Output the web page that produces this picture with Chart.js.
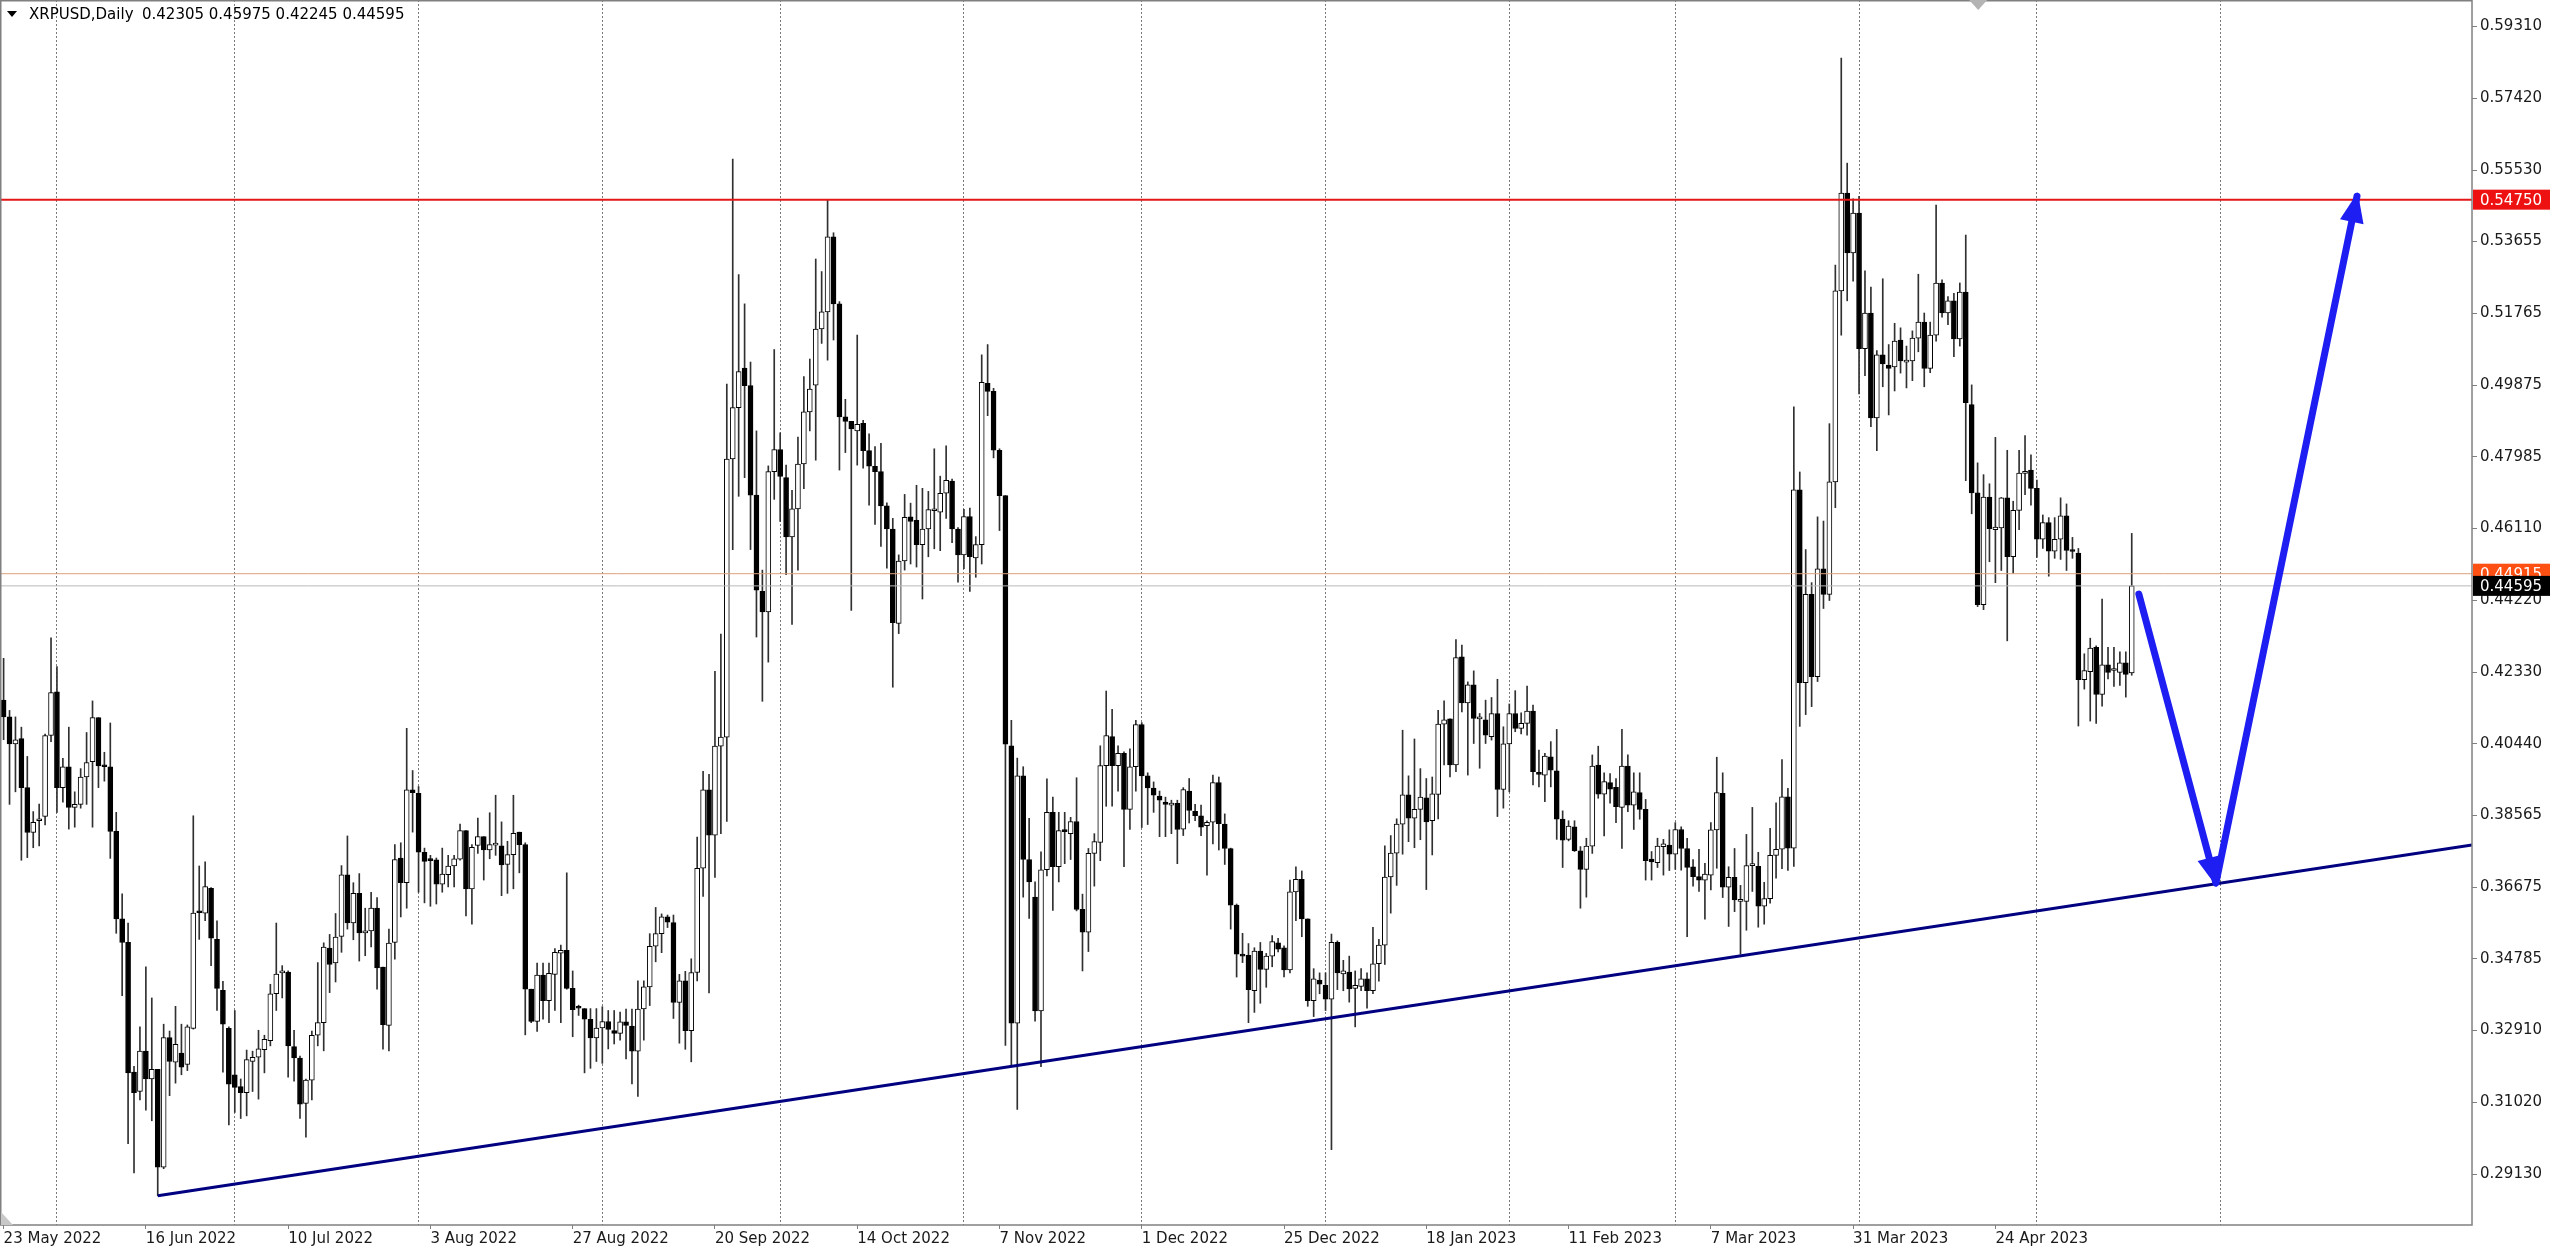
<!DOCTYPE html>
<html>
<head>
<meta charset="utf-8">
<title>XRPUSD, Daily</title>
<script src="https://cdn.jsdelivr.net/npm/chart.js@4.4.1/dist/chart.umd.min.js"></script>
<style>
  html, body { margin: 0; padding: 0; background: #ffffff; }
</style>
</head>
<body>
<canvas id="chart" width="2560" height="1253"></canvas>
<script>
"use strict";

// ------------------------------------------------------------
// Daily candles, index 0 = 23 May 2022 ... 359 = 17 May 2023
// ------------------------------------------------------------
const opens = [
  .4159,.4115,.4044,.4058,.3929,.3811,.3842,.3853,.4066,.4181,
  .3929,.3984,.3877,.3885,.3957,.3997,.4113,.3989,.3984,.3814,
  .3584,.3522,.3181,.3130,.3236,.3163,.3188,.2931,.3272,.3207,
  .3231,.3201,.3296,.3601,.3599,.3664,.3530,.3396,.3296,.3174,
  .3143,.3127,.3209,.3220,.3240,.3264,.3387,.3442,.3444,.3248,
  .3218,.3099,.3160,.3278,.3311,.3507,.3468,.3538,.3700,.3573,
  .3651,.3547,.3552,.3612,.3457,.3304,.3522,.3744,.3679,.3923,
  .3914,.3759,.3738,.3739,.3675,.3700,.3723,.3741,.3816,.3663,
  .3777,.3800,.3765,.3778,.3776,.3727,.3753,.3812,.3779,.3399,
  .3314,.3436,.3369,.3438,.3494,.3501,.3401,.3350,.3348,.3320,
  .3271,.3297,.3314,.3290,.3283,.3313,.3302,.3236,.3347,.3405,
  .3512,.3545,.3589,.3574,.3364,.3421,.3290,.3443,.3717,.3923,
  .3804,.4038,.4062,.4793,.4928,.5032,.4986,.4698,.4445,.4391,
  .4760,.4818,.4744,.4588,.4662,.4780,.4917,.4987,.5135,.5180,
  .5377,.5201,.4904,.4892,.4867,.4887,.4815,.4774,.4760,.4670,
  .4609,.4361,.4525,.4641,.4632,.4568,.4609,.4657,.4653,.4703,
  .4735,.4609,.4541,.4642,.4533,.4568,.4992,.4971,.4816,.4697,
  .4039,.3310,.3960,.3740,.3641,.3342,.3713,.3864,.3721,.3819,
  .3808,.3840,.3609,.3549,.3756,.3785,.3987,.4063,.3987,.4019,
  .3872,.3984,.4095,.3960,.3928,.3907,.3891,.3883,.3888,.3820,
  .3920,.3867,.3855,.3829,.3838,.3942,.3833,.3769,.3620,.3491,
  .3488,.3395,.3499,.3451,.3486,.3521,.3508,.3450,.3655,.3688,
  .3584,.3369,.3423,.3409,.3373,.3522,.3439,.3444,.3401,.3406,
  .3426,.3395,.3466,.3515,.3694,.3757,.3833,.3910,.3849,.3872,
  .3902,.3842,.3911,.4096,.4110,.3989,.4273,.4152,.4199,.4110,
  .4107,.4063,.4124,.3924,.4044,.4124,.4085,.4098,.4130,.3969,
  .3962,.4010,.3973,.3846,.3793,.3826,.3763,.3714,.3775,.3988,
  .3912,.3942,.3930,.3877,.3986,.3883,.3916,.3872,.3741,.3732,
  .3774,.3778,.3754,.3819,.3769,.3721,.3695,.3686,.3699,.3818,
  .3914,.3667,.3693,.3630,.3630,.3724,.3722,.3617,.3637,.3751,
  .3767,.3905,.3770,.4712,.4205,.4437,.4221,.4504,.4437,.4733,
  .5235,.5492,.5335,.5440,.5083,.5177,.4901,.5067,.5040,.5035,
  .5106,.5048,.5051,.5111,.5153,.5031,.5119,.5256,.5177,.5209,
  .5109,.5232,.4936,.4704,.4410,.4693,.4607,.4612,.4691,.4536,
  .4658,.4755,.4764,.4716,.4582,.4626,.4551,.4582,.4644,.4553,
  .4546,.4213,.4234,.4298,.4174,.4252,.4237,.4232,.4257,.42305
];
const highs = [
  .4269,.4132,.4115,.4088,.4011,.3866,.3886,.4070,.4323,.4247,
  .4006,.4088,.3918,.3979,.4074,.4157,.4113,.4022,.4099,.3864,
  .3650,.3573,.3196,.3300,.3458,.3376,.3188,.3307,.3289,.3354,
  .3307,.3305,.3855,.3723,.3734,.3666,.3579,.3420,.3300,.3343,
  .3163,.3239,.3236,.3291,.3278,.3412,.3573,.3461,.3447,.3291,
  .3223,.3163,.3289,.3469,.3521,.3543,.3598,.3724,.3802,.3679,
  .3703,.3612,.3654,.3640,.3457,.3557,.3779,.3784,.4085,.3974,
  .3932,.3770,.3751,.3744,.3770,.3751,.3751,.3833,.3816,.3779,
  .3849,.3800,.3863,.3909,.3839,.3788,.3909,.3812,.3784,.3399,
  .3468,.3468,.3468,.3506,.3515,.3705,.3447,.3357,.3348,.3348,
  .3348,.3353,.3343,.3343,.3339,.3347,.3347,.3421,.3421,.3545,
  .3614,.3597,.3594,.3594,.3438,.3446,.3479,.3799,.3972,.3964,
  .4235,.4333,.4990,.5582,.5278,.5201,.5048,.4867,.4501,.4775,
  .5081,.4862,.4777,.4711,.4851,.5010,.5056,.5319,.5286,.5475,
  .5388,.5207,.4950,.4892,.5119,.4895,.4859,.4826,.4834,.4678,
  .4637,.4541,.4700,.4677,.4724,.4716,.4708,.4820,.4748,.4828,
  .4740,.4613,.4661,.4664,.4589,.5067,.5094,.4979,.4820,.4697,
  .4106,.4007,.3984,.3848,.3681,.3760,.3952,.3904,.3864,.3864,
  .3851,.3955,.3649,.3769,.3808,.4039,.4183,.4135,.4039,.4023,
  .4031,.4106,.4100,.3968,.3944,.3920,.3904,.3896,.3896,.3929,
  .3953,.3885,.3883,.3842,.3962,.3957,.3860,.3770,.3623,.3546,
  .3519,.3508,.3522,.3493,.3540,.3533,.3513,.3686,.3721,.3710,
  .3584,.3453,.3442,.3442,.3544,.3526,.3475,.3486,.3447,.3453,
  .3442,.3562,.3530,.3776,.3803,.3847,.4080,.3960,.4057,.3979,
  .3953,.3957,.4132,.4157,.4110,.4318,.4304,.4207,.4236,.4124,
  .4159,.4166,.4214,.4089,.4149,.4184,.4126,.4196,.4146,.4028,
  .4019,.4050,.4082,.3868,.3842,.3842,.3774,.3796,.4015,.4038,
  .3968,.3966,.3953,.4082,.4015,.3968,.3968,.3898,.3761,.3796,
  .3793,.3818,.3837,.3826,.3796,.3740,.3767,.3730,.3837,.4009,
  .3968,.3721,.3769,.3672,.3806,.3877,.3759,.3680,.3822,.3889,
  .4003,.3927,.4930,.4759,.4555,.4468,.4641,.4630,.4886,.5303,
  .5847,.5571,.5477,.5484,.5288,.5245,.5078,.5267,.5094,.5150,
  .5138,.5090,.5130,.5279,.5177,.5153,.5461,.5264,.5220,.5229,
  .5256,.5382,.4988,.4783,.4752,.4728,.4850,.4692,.4816,.4682,
  .4816,.4855,.4804,.4738,.4646,.4639,.4639,.4691,.4675,.4587,
  .4558,.4281,.4322,.4302,.4425,.4298,.4298,.4286,.4286,.45975
];
const lows = [
  .4055,.3885,.3918,.3738,.3745,.3771,.3776,.3831,.4050,.3864,
  .3891,.3820,.3825,.3875,.3885,.3825,.3929,.3946,.3743,.3546,
  .3382,.2993,.2916,.3108,.3081,.3053,.2856,.2927,.3119,.3152,
  .3174,.3185,.3294,.3530,.3579,.3461,.3343,.3181,.3042,.3075,
  .3059,.3066,.3130,.3110,.3179,.3250,.3343,.3376,.3168,.3157,
  .3059,.3010,.3108,.3250,.3237,.3390,.3418,.3496,.3557,.3529,
  .3473,.3487,.3510,.3399,.3241,.3237,.3478,.3589,.3612,.3812,
  .3654,.3626,.3617,.3623,.3654,.3668,.3668,.3738,.3592,.3570,
  .3756,.3686,.3742,.3751,.3645,.3651,.3663,.3705,.3279,.3311,
  .3288,.3320,.3311,.3343,.3311,.3399,.3274,.3330,.3179,.3191,
  .3209,.3204,.3242,.3255,.3265,.3216,.3150,.3117,.3265,.3356,
  .3471,.3495,.3561,.3322,.3257,.3241,.3208,.3421,.3643,.3389,
  .3693,.3808,.3840,.4555,.4695,.4744,.4555,.4325,.4156,.4259,
  .4687,.4629,.4489,.4358,.4501,.4715,.4867,.4790,.5097,.5053,
  .5106,.4764,.4810,.4395,.4777,.4769,.4672,.4621,.4563,.4506,
  .4193,.4334,.4501,.4517,.4509,.4425,.4536,.4557,.4552,.4637,
  .4573,.4469,.4505,.4445,.4482,.4517,.4907,.4796,.4605,.3251,
  .3198,.3083,.3641,.3585,.3315,.3195,.3697,.3606,.3681,.3729,
  .3740,.3605,.3447,.3498,.3670,.3737,.3880,.3880,.3920,.3721,
  .3819,.3920,.3824,.3832,.3864,.3800,.3800,.3808,.3729,.3803,
  .3836,.3842,.3803,.3699,.3781,.3765,.3727,.3557,.3431,.3469,
  .3311,.3338,.3362,.3404,.3458,.3497,.3431,.3442,.3579,.3537,
  .3354,.3327,.3387,.3343,.2977,.3398,.3395,.3365,.3300,.3395,
  .3349,.3387,.3420,.3464,.3599,.3672,.3754,.3787,.3771,.3792,
  .3661,.3752,.3847,.3989,.3957,.3971,.4128,.3962,.4045,.3980,
  .4045,.4054,.3853,.3875,.3918,.4076,.4070,.4067,.3936,.3931,
  .3892,.3931,.3793,.3719,.3789,.3761,.3612,.3641,.3756,.3901,
  .3802,.3888,.3837,.3769,.3866,.3819,.3846,.3686,.3686,.3719,
  .3699,.3711,.3714,.3712,.3537,.3670,.3656,.3583,.3660,.3717,
  .3640,.3564,.3603,.3491,.3554,.3656,.3562,.3570,.3625,.3691,
  .3716,.3711,.3722,.4090,.4121,.4142,.4208,.4400,.4421,.4665,
  .5119,.5209,.5261,.4964,.5012,.4878,.4815,.4983,.4909,.4972,
  .5019,.4980,.4999,.5075,.4983,.5020,.5103,.5166,.5146,.5062,
  .5090,.4736,.4649,.4405,.4397,.4523,.4468,.4500,.4315,.4493,
  .4607,.4699,.4672,.4534,.4558,.4485,.4532,.4529,.4500,.4532,
  .4091,.4188,.4104,.4098,.4143,.4215,.4195,.4198,.4167,.42245
];
const closes = [
  .4115,.4044,.4055,.3929,.3811,.3838,.3845,.4066,.4179,.3929,
  .3984,.3877,.3885,.3957,.3995,.4113,.3986,.3984,.3814,.3584,
  .3522,.3179,.3127,.3236,.3163,.3188,.2931,.3272,.3209,.3254,
  .3194,.3300,.3599,.3600,.3669,.3533,.3401,.3307,.3149,.3141,
  .3127,.3214,.3220,.3242,.3267,.3387,.3439,.3443,.3250,.3218,
  .3097,.3160,.3278,.3311,.3510,.3464,.3536,.3700,.3573,.3651,
  .3547,.3552,.3612,.3455,.3306,.3520,.3740,.3679,.3923,.3916,
  .3759,.3735,.3737,.3675,.3702,.3723,.3742,.3816,.3663,.3772,
  .3800,.3765,.3779,.3778,.3726,.3753,.3809,.3779,.3399,.3314,
  .3436,.3369,.3441,.3496,.3501,.3401,.3345,.3349,.3320,.3271,
  .3297,.3314,.3293,.3283,.3313,.3304,.3236,.3347,.3405,.3512,
  .3545,.3589,.3575,.3364,.3421,.3290,.3443,.3717,.3923,.3804,
  .4038,.4062,.4793,.4928,.5023,.4986,.4698,.4448,.4391,.4760,
  .4818,.4747,.4588,.4662,.4780,.4917,.4977,.5135,.5180,.5377,
  .5201,.4904,.4892,.4872,.4884,.4815,.4774,.4760,.4670,.4609,
  .4363,.4525,.4640,.4629,.4568,.4609,.4660,.4660,.4703,.4737,
  .4609,.4541,.4642,.4536,.4568,.4995,.4971,.4816,.4697,.4043,
  .3310,.3960,.3740,.3681,.3342,.3713,.3864,.3721,.3816,.3813,
  .3840,.3609,.3549,.3756,.3787,.3987,.4066,.3987,.4019,.3872,
  .3984,.4095,.3960,.3928,.3909,.3896,.3885,.3888,.3819,.3924,
  .3869,.3855,.3825,.3838,.3942,.3834,.3769,.3620,.3491,.3486,
  .3398,.3499,.3451,.3486,.3524,.3504,.3450,.3655,.3688,.3584,
  .3369,.3426,.3412,.3373,.3522,.3442,.3447,.3400,.3409,.3426,
  .3395,.3466,.3515,.3694,.3757,.3833,.3910,.3849,.3872,.3904,
  .3839,.3913,.4096,.4107,.3989,.4271,.4152,.4199,.4111,.4112,
  .4067,.4124,.3924,.4044,.4124,.4085,.4098,.4130,.3971,.3964,
  .4012,.3975,.3846,.3791,.3828,.3763,.3714,.3775,.3986,.3912,
  .3945,.3925,.3879,.3986,.3883,.3918,.3872,.3737,.3734,.3775,
  .3781,.3754,.3819,.3769,.3719,.3695,.3686,.3702,.3818,.3916,
  .3667,.3693,.3634,.3632,.3724,.3726,.3617,.3637,.3751,.3767,
  .3905,.3770,.4712,.4205,.4437,.4221,.4504,.4437,.4733,.5235,
  .5492,.5335,.5440,.5083,.5177,.4901,.5067,.5043,.5031,.5103,
  .5051,.5050,.5111,.5153,.5031,.5119,.5256,.5177,.5209,.5109,
  .5232,.4941,.4704,.4410,.4693,.4610,.4614,.4691,.4536,.4658,
  .4756,.4761,.4716,.4582,.4626,.4551,.4582,.4644,.4553,.4550,
  .4213,.4237,.4296,.4174,.4252,.4232,.4239,.4257,.4227,.44595
];

if (![highs, lows, closes].every(a => a.length === opens.length)) {
  throw new Error("OHLC arrays differ in length");
}

// axes
const yTicks = [0.59310, 0.57420, 0.55530, 0.53655, 0.51765, 0.49875, 0.47985, 0.46110,
  0.44220, 0.42330, 0.40440, 0.38565, 0.36675, 0.34785, 0.32910, 0.31020, 0.29130];
const xTickIdx = [0, 24, 48, 72, 96, 120, 144, 168, 192, 216, 240, 264, 288, 312, 336];
const xTickLabels = ["23 May 2022", "16 Jun 2022", "10 Jul 2022", "3 Aug 2022", "27 Aug 2022",
  "20 Sep 2022", "14 Oct 2022", "7 Nov 2022", "1 Dec 2022", "25 Dec 2022", "18 Jan 2023",
  "11 Feb 2023", "7 Mar 2023", "31 Mar 2023", "24 Apr 2023"];
const monthStartIdx = [9, 39, 70, 101, 131, 162, 192, 223, 254, 282, 313, 343, 374];

const xMin = -0.607, xMax = 416.4;
const yMin = 0.2779, yMax = 0.6000;

// drawn objects
const symbolTitle = "XRPUSD,Daily";
const lastOhlc = "0.42305 0.45975 0.42245 0.44595";
const resistance = 0.5475;
const askPrice = 0.44915;
const bidPrice = 0.44595;
const trendX = [26, 416.4];
const trendY = [0.2856, 0.3778];
const arrowX = [360.2, 373.2, 397.0];
const arrowY = [0.4438, 0.3678, 0.5484];
const shiftMarkerIdx = 333.1;

// =============================================================
Chart.defaults.font.family = "'DejaVu Sans', sans-serif";
Chart.defaults.font.size = 15;
Chart.defaults.color = "#1a1a1a";

const idx = opens.map((_, i) => i);
const hline = (v) => [{ x: xMin - 2, y: v }, { x: xMax + 2, y: v }];
const pts = (xs, ys) => xs.map((x, i) => ({ x, y: ys[i] }));

const overlay = {
  id: "overlay",
  afterDatasetsDraw(chart) {
    const { ctx, scales: { x, y } } = chart;
    const px = arrowX.map(v => x.getPixelForValue(v));
    const py = arrowY.map(v => y.getPixelForValue(v));
    ctx.save();
    ctx.fillStyle = "#1e1ef2";
    for (let k = 1; k < px.length; k++) {
      const a = Math.atan2(py[k] - py[k - 1], px[k] - px[k - 1]);
      const c = Math.cos(a), s = Math.sin(a);
      const tx = px[k] + c * 4, ty = py[k] + s * 4;
      const len = 30, half = 12;
      ctx.beginPath();
      ctx.moveTo(tx, ty);
      ctx.lineTo(tx - c * len - s * half, ty - s * len + c * half);
      ctx.lineTo(tx - c * len + s * half, ty - s * len - c * half);
      ctx.closePath();
      ctx.fill();
    }
    ctx.restore();
  },
  afterDraw(chart) {
    const { ctx, chartArea: area, scales: { x, y } } = chart;
    ctx.save();

    // frame
    ctx.strokeStyle = "#808080";
    ctx.lineWidth = 1.5;
    ctx.strokeRect(area.left + 0.75, area.top + 0.75, area.right - area.left - 0.75, area.bottom - area.top - 0.75);

    // price labels on the right scale
    const box = (v, text, bg) => {
      const yy = y.getPixelForValue(v);
      ctx.fillStyle = bg;
      ctx.fillRect(area.right + 1, yy - 10, 77, 20);
      ctx.fillStyle = "#ffffff";
      ctx.font = "15px 'DejaVu Sans'";
      ctx.textBaseline = "middle";
      ctx.textAlign = "left";
      ctx.fillText(text, area.right + 8, yy + 1);
    };
    box(resistance, resistance.toFixed(5), "#ee1111");
    box(askPrice, askPrice.toFixed(5), "#ff5014");
    box(bidPrice, bidPrice.toFixed(5), "#000000");

    // symbol line, top left
    ctx.fillStyle = "#000000";
    ctx.beginPath();
    ctx.moveTo(7, 11); ctx.lineTo(17, 11); ctx.lineTo(12, 17); ctx.closePath();
    ctx.fill();
    ctx.font = "15px 'DejaVu Sans'";
    ctx.textBaseline = "middle";
    ctx.fillText(symbolTitle, 29, 15);
    ctx.fillText(lastOhlc, 142, 15);

    // chart shift marker
    const sx = x.getPixelForValue(shiftMarkerIdx);
    ctx.fillStyle = "#b4b4b4";
    ctx.beginPath();
    ctx.moveTo(sx - 9, area.top); ctx.lineTo(sx + 9, area.top); ctx.lineTo(sx, area.top + 10); ctx.closePath();
    ctx.fill();
    ctx.beginPath();
    ctx.moveTo(area.left + 1, area.bottom - 13); ctx.lineTo(area.left + 1, area.bottom); ctx.lineTo(area.left + 13, area.bottom);
    ctx.closePath();
    ctx.fillStyle = "#c8c8c8";
    ctx.fill();
    ctx.restore();
  }
};

new Chart(document.getElementById("chart"), {
  type: "bar",
  data: {
    datasets: [
      {
        type: "bar",
        data: idx.map(i => ({ x: i, y: [lows[i], highs[i]] })),
        backgroundColor: "#303030",
        barThickness: 1,
        grouped: false,
        order: 9
      },
      {
        type: "bar",
        data: idx.map(i => ({ x: i, y: [opens[i], closes[i]] })),
        backgroundColor: idx.map(i => closes[i] >= opens[i] ? "#ffffff" : "#000000"),
        borderColor: "#000000",
        borderWidth: 1,
        borderSkipped: false,
        barThickness: 5,
        minBarLength: 2,
        grouped: false,
        order: 8
      },
      { type: "line", data: hline(askPrice), borderColor: "#dba27c", borderWidth: 1, pointRadius: 0, order: 5 },
      { type: "line", data: hline(bidPrice), borderColor: "#b9b9b9", borderWidth: 1, pointRadius: 0, order: 5 },
      { type: "line", data: hline(resistance), borderColor: "#e51616", borderWidth: 2, pointRadius: 0, order: 4 },
      { type: "line", data: pts(trendX, trendY), borderColor: "#000080", borderWidth: 3, pointRadius: 0, order: 3 },
      {
        type: "line", data: pts(arrowX, arrowY), borderColor: "#1e1ef2", borderWidth: 7,
        borderCapStyle: "round", borderJoinStyle: "round", pointRadius: 0, order: 2
      }
    ]
  },
  options: {
    responsive: false,
    devicePixelRatio: 1,
    animation: false,
    layout: { padding: 0 },
    plugins: { legend: { display: false }, tooltip: { enabled: false } },
    scales: {
      x: {
        type: "linear", axis: "x", position: "bottom", min: xMin, max: xMax, offset: false,
        afterBuildTicks: s => { s.ticks = xTickIdx.map(v => ({ value: v })); },
        afterFit: s => { s.height = 28; s.paddingLeft = 0; s.paddingRight = 0; },
        ticks: {
          align: "start", padding: 1, autoSkip: false, minRotation: 0, maxRotation: 0,
          color: "#1a1a1a",
          callback: v => { const k = xTickIdx.indexOf(v); return k >= 0 ? xTickLabels[k] : ""; }
        },
        grid: { display: true, drawOnChartArea: false, drawTicks: true, tickLength: 4, color: "#808080", offset: false },
        border: { display: false }
      },
      xm: {
        type: "linear", axis: "x", position: "top", min: xMin, max: xMax, offset: false,
        afterBuildTicks: s => { s.ticks = monthStartIdx.map(v => ({ value: v })); },
        afterFit: s => { s.height = 0; s.paddingLeft = 0; s.paddingRight = 0; },
        ticks: { display: false },
        grid: { display: true, drawOnChartArea: true, drawTicks: false, color: "#7a7a7a", lineWidth: 1, offset: false },
        border: { display: false, dash: [2, 2] }
      },
      y: {
        type: "linear", position: "right", min: yMin, max: yMax, beginAtZero: false,
        afterBuildTicks: s => { s.ticks = yTicks.map(v => ({ value: v })); },
        afterFit: s => { s.width = 88; s.paddingTop = 0; s.paddingBottom = 0; },
        ticks: { padding: 3, autoSkip: false, color: "#1a1a1a", callback: v => v.toFixed(5) },
        grid: { display: true, drawOnChartArea: false, drawTicks: true, tickLength: 5, color: "#808080" },
        border: { display: false }
      }
    }
  },
  plugins: [overlay]
});
</script>
</body>
</html>
